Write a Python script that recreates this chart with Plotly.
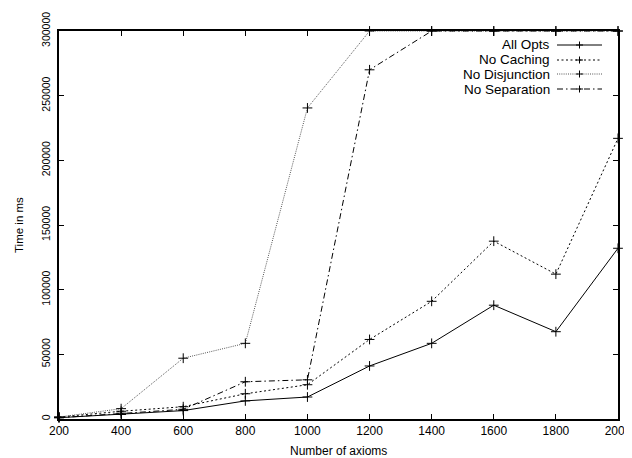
import plotly.graph_objects as go

axioms = [200, 400, 600, 800, 1000, 1200, 1400, 1600, 1800, 2000]
all_opts = [1000, 3500, 6500, 14000, 17000, 41000, 58500, 88000, 67500, 132000]
no_caching = [1500, 6000, 9500, 19500, 26500, 61500, 91000, 137500, 112000, 217000]
no_disjunction = [1500, 8000, 47000, 58500, 240500, 300000, 300000, 300000, 300000, 300000]
no_separation = [1000, 4500, 7500, 28800, 30300, 270000, 300000, 300000, 300000, 300000]

y_ticks = [0, 50000, 100000, 150000, 200000, 250000, 300000]

series_names = ["All Opts", "No Caching", "No Disjunction", "No Separation"]
series_values = [all_opts, no_caching, no_disjunction, no_separation]
dashes = ["solid", "2px,2.5px", "1px,1.2px", "6px,3px,1.5px,3px"]
colors = ["#000000", "#000000", "#555555", "#000000"]

FONT = "Liberation Sans, Arial, Helvetica, sans-serif"

# the page body has an 8px margin, so the figure starts at (8, 8)
OFF = 8
W, H = 624, 450
L, T = 59 - OFF, 31 - OFF
PW, PH = 618 - 59, 419 - 31
R = W - L - PW
B = H - T - PH


def px_x(page_x):
    return (page_x - 59) / PW


def px_y(page_y):
    return 1 - (page_y - 31) / PH


fig = go.Figure()
for name, vals, dash, col in zip(series_names, series_values, dashes, colors):
    fig.add_trace(go.Scatter(
        x=axioms, y=vals, name=name, mode="lines+markers",
        line=dict(color=col, width=1, dash=dash),
        marker=dict(symbol="cross-thin", size=7, line=dict(color="black", width=1)),
        cliponaxis=False, showlegend=False,
    ))

# gnuplot-style legend: text right-aligned, line sample on the right
shapes = []
annotations = []
row_y = [45, 60, 74, 89]
for name, dash, col, yy in zip(series_names, dashes, colors, row_y):
    y_p = px_y(yy)
    annotations.append(dict(
        xref="paper", yref="paper", x=px_x(551), y=y_p,
        text=name, showarrow=False, xanchor="right", yanchor="middle",
        borderpad=0,
        font=dict(family=FONT, size=13.5, color="black"),
    ))
    shapes.append(dict(type="line", xref="paper", yref="paper",
                       x0=px_x(557), x1=px_x(602), y0=y_p, y1=y_p,
                       line=dict(color=col, width=1, dash=dash)))
    shapes.append(dict(type="line", xref="paper", yref="paper",
                       x0=px_x(579.5), x1=px_x(579.5),
                       y0=y_p - 3.5 / PH, y1=y_p + 3.5 / PH,
                       line=dict(color="black", width=1)))
    shapes.append(dict(type="line", xref="paper", yref="paper",
                       x0=px_x(576), x1=px_x(583), y0=y_p, y1=y_p,
                       line=dict(color="black", width=1)))

annotations.append(dict(
    xref="paper", yref="paper", x=0, y=0.5, xshift=-(59 - 19),
    text="Time in ms", textangle=-90, showarrow=False,
    xanchor="center", yanchor="middle",
    font=dict(family=FONT, size=11.5, color="black"),
))
annotations.append(dict(
    xref="paper", yref="paper", x=0.5, y=0, yshift=-(451 - 419),
    text="Number of axioms", showarrow=False,
    xanchor="center", yanchor="middle",
    font=dict(family=FONT, size=12, color="black"),
))

axis_common = dict(
    showline=True, linecolor="black", linewidth=1.5, mirror="ticks",
    ticks="inside", ticklen=5, tickcolor="black", tickwidth=1,
    showgrid=False, zeroline=False, automargin=False,
)

fig.update_layout(
    width=W, height=H,
    margin=dict(l=L, r=R, t=T, b=B, pad=0),
    paper_bgcolor="white", plot_bgcolor="white",
    font=dict(family=FONT, size=11, color="black"),
    xaxis=dict(range=[200, 2000], tickvals=axioms, ticktext=[str(a) for a in axioms],
               tickfont=dict(family=FONT, size=12, color="black"),
               **axis_common),
    yaxis=dict(range=[0, 300000], tickvals=y_ticks, ticktext=[str(v) for v in y_ticks],
               tickangle=-90, tickfont=dict(family=FONT, size=10.5, color="black"),
               ticklabelstandoff=3,
               **axis_common),
    shapes=shapes, annotations=annotations,
)

fig.write_html("out.html")
